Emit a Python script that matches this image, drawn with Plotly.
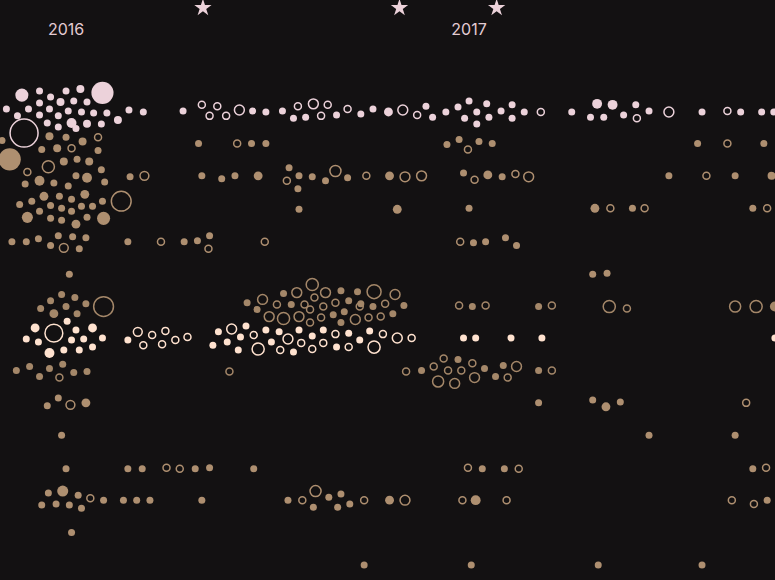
import plotly.graph_objects as go
import math

# Each point: (day since 2016-01-01, offset within lane, value, filled 1/0)
ROW_00 = [(-40,-0.49,3.5,1),(-24,-0.62,1,1),(-54,-0.06,1,1),(-44,0.15,1,1),(-34,-0.06,1,1),(-24,-0.25,1,1),
          (-14,-0.43,1,1),(-5,-0.28,1.3,1),(0,-0.62,1,1),(13,-0.68,1.3,1),(33,-0.56,10,1),(7,-0.31,1,1),
          (19,-0.28,1,1),(-24,0.12,1,1),(-15,-0.06,1,1),(-7,0.15,1,1),(2,0,1,1),(14,0.03,1,1),(25,0.06,1,1),
          (37,0.06,1,1),(47,0.28,1.3,1),(57,-0.03,1,1),(70,0.03,1,1),(5,0.37,2,1),(19,0.39,1.3,1),(32,0.40,1,1),
          (-17,0.37,1,1),(-7,0.49,1,1),(9,0.54,1,1),(-38,0.68,16,0),
          (106,0,1,1),(123,-0.19,1,0),(130,0.15,1,0),(137,-0.15,1,0),(145,0.15,1,0),(157,-0.03,2,0),(169,0,1,1),
          (181,0.03,1,1),(196,0,1,1),(206,0.22,1,1),(210,-0.15,1,0),(217,0.19,1,1),(224,-0.22,2,0),(231,0.15,1,0),
          (237,-0.19,1,0),(245,0.12,1,1),(255,-0.06,1,0),(267,0.09,1,1),(278,-0.06,1,1),(292,0.03,1.6,1),
          (305,-0.03,2,0),(318,0.12,1,0),(326,-0.15,1,1),(332,0.19,1,1),(344,0.03,1,1),(355,-0.12,1,1),
          (361,0.22,1,1),(365,-0.31,1,1),(372,0.03,1,1),(372,0.40,1,1),(381,-0.22,1,1),(383,0.19,1,1),
          (394,0,1,1),(404,-0.19,1,1),(404,0.22,1,1),(415,0.03,1,1),(430,0.03,1,0),(458,0.03,1,1),
          (481,-0.22,2,1),(495,-0.19,2,1),(475,0.19,1,1),(487,0.19,1,1),(505,0.12,1,1),(516,-0.19,1,1),
          (517,0.22,1,0),(528,0,1,1),(546,0.03,2,0),(576,0.03,1,1),(599,0,1,0),(611,0.03,1,1),(630,0.03,1,1),
          (641,0.03,1,1)]
ROW_01 = [(-58,-0.09,1,1),(-15,-0.22,1.3,1),(0,-0.19,1,1),(15,-0.06,1.3,1),(29,-0.19,1,0),(-22,0.19,1,1),
          (-8,0.15,1.3,1),(5,0.15,1,0),(29,0.22,1,1),(-51,0.49,10,1),(-2,0.56,1.3,1),(10,0.49,1,1),(21,0.56,1.3,1),
          (120,0,1,1),(155,0,1,0),(168,0,1,1),(181,0,1,1),(345,0.03,1,1),(356,-0.12,1,1),(364,0.19,1,0),
          (374,-0.06,1,1),(386,0,1,1),(572,0,1,1),(599,0,1,0),(632,0,1,1)]
ROW_02 = [(-35,-0.12,1,0),(-16,-0.28,3,0),(32,-0.19,1,1),(-24,0.15,2,1),(-11,0.22,1,1),(9,0,1,1),(19,0.06,2,1),
          (-37,0.25,1,1),(2,0.31,1,1),(35,0.19,1,1),
          (58,0.03,1,1),(71,0,1.6,0),(123,0,1,1),(141,0.09,1,1),(153,0,1,1),(174,0,1.6,1),(202,-0.25,1,1),
          (200,0.15,1,0),(211,0,1,1),(210,0.40,1,1),(223,0.03,1,1),(244,-0.15,2.5,0),(235,0.15,1,1),(255,0.06,1,1),
          (272,0,1,0),(293,0,1.6,1),(307,0.03,2,0),(322,0,2,0),(360,-0.09,1,1),(370,0.12,1,0),(382,-0.03,1.6,1),
          (395,0.03,1,1),(407,-0.06,1,0),(419,0.03,2,0),(546,0,1,1),(580,0,1,0),(606,0,1,1),(639,0,1.3,1)]
ROW_03 = [(-20,-0.37,1.6,1),(-6,-0.37,1,1),(5,-0.28,1,1),(17,-0.43,1.6,1),(33,-0.22,1,1),(50,-0.22,8,0),
          (-42,-0.12,1,1),(-31,-0.22,1,1),(-14,-0.09,1,1),(-4,0,1,1),(14,-0.06,1,1),(24,-0.06,1,1),(-24,0.09,1,1),
          (5,0.09,1,1),(-35,0.28,2.5,1),(-14,0.31,1,1),(-4,0.37,1,1),(19,0.28,1,1),(34,0.31,3.5,1),(9,0.49,1.6,1),
          (211,0.03,1,1),(300,0.03,1.6,1),(365,0,1,1),(479,0,1.6,1),(493,0,1,0),(513,0,1,1),(524,0,1,0),
          (622,0,1,1),(635,0,1,0)]
ROW_04 = [(-49,0.03,1,1),(-36,0.03,1,1),(-25,-0.06,1,1),(-7,-0.15,1,1),(6,-0.12,1,1),(18,-0.09,1,1),
          (-14,0.15,1,1),(-2,0.22,1.6,0),(12,0.25,1,1),(56,0.03,1,1),(86,0.03,1,0),(107,0.03,1,1),(119,0,1,1),
          (130,-0.15,1,1),(129,0.25,1,0),(180,0.03,1,0),(357,0.03,1,0),(369,0.06,1,1),(380,0.03,1,1),
          (398,-0.09,1,1),(408,0.15,1,1)]
ROW_05 = [(3,0.03,1,1),(477,0.03,1,1),(490,0,1,1)]
ROW_06 = [(-4,-0.34,1,1),(8,-0.25,1,1),(-14,-0.15,1,1),(-23,0.09,1,1),(0,0.03,1,1),(-11,0.25,1.6,1),
          (10,0.25,1,1),(18,-0.06,1,1),(34,0.03,8,0),
          (164,-0.09,1,1),(173,0.12,1,1),(178,-0.19,2,0),(184,0.34,2,0),(191,-0.03,1,0),(197,-0.37,1,1),
          (197,0.40,3,0),(204,-0.03,1,1),(209,-0.40,2,0),(211,0.34,2,0),(216,-0.03,1,0),(221,0.12,1,0),
          (221,0.52,1,0),(223,-0.65,3,0),(225,-0.25,1,0),(231,0.37,1,0),(233,0.03,1,0),(235,-0.40,2,0),
          (242,0.28,1,1),(244,-0.09,1,0),(249,-0.46,1,1),(249,0.52,1,1),(252,0.19,1,1),(256,-0.15,1,1),
          (262,0.43,2,0),(264,-0.43,1,1),(266,0.03,1,0),(267,-0.06,1,1),(274,0.37,1,0),(278,0.03,1,1),
          (279,-0.43,4,0),(285,0.34,1,0),(289,-0.06,1,0),(296,0.25,1,1),(298,-0.34,2,0),(306,0,1,1),
          (356,0,1,0),(368,0.03,1,1),(380,0,1,0),(428,0.03,1,1),(440,0,1,0),(492,0.03,3,0),(508,0.09,1,0),
          (606,0.03,2.5,0),(625,0.03,3,0),(642,0.03,2,1)]
ROW_07 = [(-28,-0.31,1.6,1),(-36,0.03,1,1),(-25,0.12,1,1),(-11,-0.15,6.5,0),(-15,0.46,2,1),(1,-0.52,1,1),
          (9,-0.25,1,1),(5,0.06,1,1),(-2,0.37,1,1),(12,0.37,1,1),(16,0.03,1,1),(24,-0.31,1.6,1),(24,0.28,1,1),
          (33,0,1,1),(56,0.06,1,1),(65,-0.19,1.6,0),(70,0.22,1,0),(78,-0.09,1,0),(87,0.19,1,0),(90,-0.22,1,0),
          (99,0.06,1,0),(110,-0.03,1,0),
          (133,0.22,1,1),(138,-0.19,1,1),(146,0.12,1,1),(150,-0.28,2,0),(156,0.37,1,1),(158,-0.03,1,1),
          (163,-0.37,1,1),(170,-0.09,1,0),(174,0.34,3,0),(181,-0.25,1,1),(186,0.12,1,1),(193,-0.19,1,1),
          (194,0.37,1,0),(201,0.03,2,0),(206,0.43,1,1),(211,-0.25,1,1),(213,0.15,1,0),(223,-0.06,1,1),
          (223,0.34,1,0),(233,-0.25,1,1),(233,0.15,1,0),(244,-0.12,1,0),(245,0.28,1,1),(256,-0.15,1,1),
          (256,0.28,1,0),(266,0.06,1,1),(275,-0.22,1,1),(279,0.28,3,0),(287,-0.12,1,0),(300,0,2,0),(313,0,1,0),
          (360,0,1,1),(371,0,1,1),(403,0,1,1),(431,0,1,1),(642,0,1,1)]
ROW_08 = [(-45,0,1,1),(-33,-0.12,1,1),(-24,0.19,1,1),(-15,-0.06,1,1),(-3,-0.19,1,1),(-6,0.22,1,0),(7,0.06,1,1),
          (19,0.03,1,1),(148,0.03,1,0),
          (308,0.03,1,0),(322,0,1,1),(333,-0.12,1,0),(342,-0.37,1,0),(355,-0.34,1,1),(346,0,1,0),(358,0,1,0),
          (368,-0.22,1,0),(337,0.34,2.5,0),(352,0.40,2,0),(370,0.22,2,0),(379,-0.06,1,1),(389,0.19,1,1),
          (396,-0.15,1,1),(400,0.22,1,0),(408,-0.12,2,0),(428,0,1,1),(440,0,1,0)]
ROW_09 = [(-17,0.09,1,1),(-7,-0.15,1,1),(4,0.06,1.6,0),(18,0,1.6,1),(428,0,1,1),(477,-0.09,1,1),
          (489,0.12,1.6,1),(502,-0.03,1,1),(616,0,1,0)]
ROW_10 = [(-4,0,1,1),(528,0,1,1),(606,0,1,1)]
ROW_11 = [(0,0.03,1,1),(56,0.03,1,1),(69,0.03,1,1),(91,0,1,0),(103,0.03,1,0),(117,0.03,1,1),(130,0,1,1),
          (170,0.03,1,1),(364,0,1,0),(377,0.03,1,1),(397,0.03,1,1),(410,0.03,1,0),(622,0.03,1,1),(634,0,1,0)]
ROW_12 = [(-16,-0.22,1,1),(-3,-0.28,2.5,1),(11,-0.15,1,1),(22,-0.06,1,0),(-22,0.15,1,1),(-9,0.12,1,1),
          (3,0.15,1,1),(14,0.25,1,1),(34,0,1,1),(52,0,1,1),(64,0,1,1),(76,0,1,1),(123,0,1,1),
          (201,0,1,1),(214,0,1,0),(226,-0.28,2.5,0),(238,-0.09,1,1),(249,-0.19,1,1),(224,0.22,1,1),
          (246,0.22,1,1),(257,0.12,1,1),(270,0,1,0),(293,0,1.6,1),(307,0,2,0),(359,0,1,0),(371,0,2,1),
          (399,0,1,0),(603,0,1,0),(623,0.12,1,0),(635,0,1,1)]
ROW_13 = [(5,0,1,1)]
ROW_14 = [(270,0,1,1),(367,0,1,1),(482,0,1,1),(576,0,1,1)]

ROWS = [ROW_00, ROW_01, ROW_02, ROW_03, ROW_04, ROW_05, ROW_06, ROW_07,
        ROW_08, ROW_09, ROW_10, ROW_11, ROW_12, ROW_13, ROW_14]

YEAR_LABELS = ["2016", "2017"]
YEAR_DAYS = [0, 365]
STAR_DAYS = [124, 302, 390]

BG = "#131112"
PINK = "#ecd2da"
TAN = "#ae8f70"
TAN_DIM = "#a48769"
CREAM = "#ffe2cf"

def lane_color(i):
    if i == 0:
        return PINK
    if i == 7:
        return CREAM
    if i in (6, 8):
        return TAN_DIM
    return TAN

def diam(v):
    return 7 * math.sqrt(v)

fig = go.Figure()
for i, row in enumerate(ROWS):
    col = lane_color(i)
    for filled in (1, 0):
        pts = [p for p in row if p[3] == filled]
        if not pts:
            continue
        fig.add_trace(go.Scatter(
            x=[p[0] for p in pts],
            y=[i + p[1] for p in pts],
            mode="markers",
            hoverinfo="skip",
            marker=dict(
                symbol="circle" if filled else "circle-open",
                size=[diam(p[2]) for p in pts],
                color=col,
                line=dict(width=0 if filled else 1.5, color=col),
                opacity=1,
            ),
            showlegend=False,
        ))

fig.add_trace(go.Scatter(
    x=STAR_DAYS, y=[-3.18] * len(STAR_DAYS), mode="markers",
    marker=dict(symbol="star", size=13, color=PINK, line=dict(width=0)),
    hoverinfo="skip", showlegend=False, cliponaxis=False,
))
fig.add_trace(go.Scatter(
    x=YEAR_DAYS, y=[-2.47] * len(YEAR_DAYS), mode="text", text=YEAR_LABELS,
    textfont=dict(family="Inter, Roboto, sans-serif", size=16, color="#e3cbd2"),
    hoverinfo="skip", showlegend=False,
))

fig.update_layout(
    width=775, height=580,
    margin=dict(l=0, r=0, t=0, b=0),
    paper_bgcolor=BG, plot_bgcolor=BG,
    xaxis=dict(range=[-59.8, 642.1], visible=False, fixedrange=True),
    yaxis=dict(range=[14.462, -3.423], visible=False, fixedrange=True),
)
fig.write_html("out.html")
